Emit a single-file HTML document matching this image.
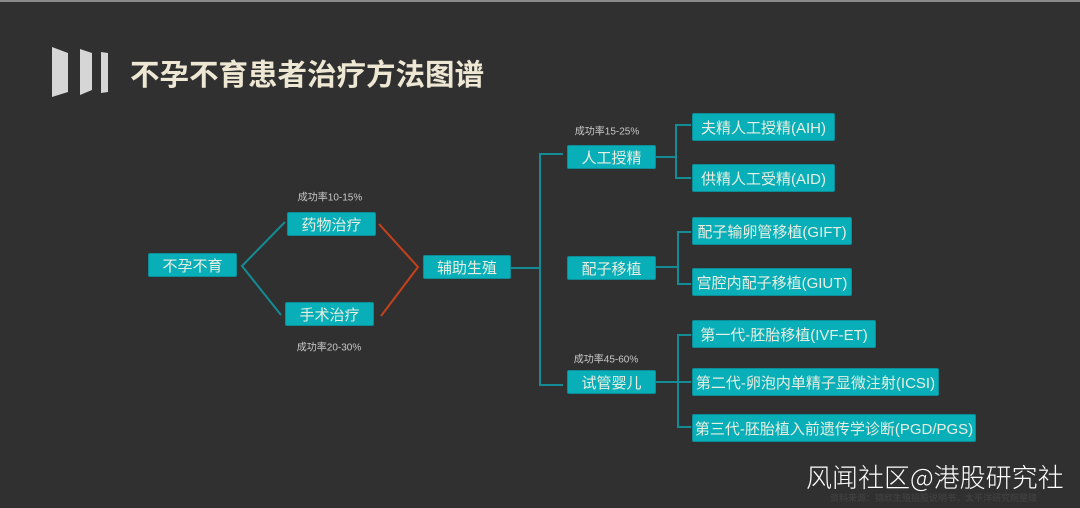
<!DOCTYPE html>
<html><head><meta charset="utf-8">
<style>
html,body{margin:0;padding:0;}
body{width:1080px;height:508px;background:#303030;position:relative;overflow:hidden;font-family:"Liberation Sans","Noto Sans CJK SC",sans-serif;}
.top{position:absolute;left:0;top:0;width:1080px;height:2px;background:#8a8a8a;}
.title{position:absolute;left:130px;top:57px;height:32px;line-height:32px;font-size:29.5px;font-weight:bold;color:#ede7d3;white-space:nowrap;font-family:"Noto Sans CJK SC",sans-serif;}
.box{position:absolute;background:#08aeb8;border:1px solid #0b8e98;border-radius:2px;box-sizing:border-box;color:#e8efe2;font-size:15px;display:flex;align-items:center;justify-content:center;white-space:nowrap;font-family:"Liberation Sans","Noto Sans CJK SC",sans-serif;}
.lab{position:absolute;font-size:10px;color:#c8c8c8;white-space:nowrap;transform:translate(-50%,-50%);font-family:"Liberation Sans","Noto Sans CJK SC",sans-serif;}
.wm{position:absolute;left:806px;top:462px;font-size:26px;line-height:30px;color:#ffffff;white-space:nowrap;font-family:"Noto Sans CJK SC",sans-serif;font-weight:300;}
.src{position:absolute;left:830px;top:491px;font-size:9px;color:#3e3e3e;white-space:nowrap;font-weight:bold;font-family:"Noto Sans CJK SC",sans-serif;}
svg{position:absolute;left:0;top:0;}
</style></head>
<body>
<div class="top"></div>
<svg width="1080" height="508" viewBox="0 0 1080 508">
  <polygon points="52,47 68,53 68,92 52,97" fill="#d6d6d6"/>
  <polygon points="80,49 92,53 92,90 80,95" fill="#d6d6d6"/>
  <polygon points="101,52 108,53 108,92 101,93" fill="#d6d6d6"/>
  <g fill="none" stroke-width="2">
    <polyline points="285,222 242,266 281,315" stroke="#138c96"/>
    <polyline points="379,224 418,267 381,316" stroke="#c4411b"/>
    <g stroke="#138c96">
      <line x1="511" y1="268" x2="540" y2="268"/>
      <line x1="540" y1="153" x2="540" y2="386"/>
      <line x1="539" y1="154" x2="563" y2="154"/>
      <line x1="539" y1="385" x2="563" y2="385"/>
      <line x1="656" y1="157" x2="676" y2="157"/>
      <line x1="676" y1="124" x2="676" y2="179"/>
      <line x1="675" y1="125" x2="691" y2="125"/>
      <line x1="675" y1="178" x2="691" y2="178"/>
      <line x1="656" y1="267" x2="678" y2="267"/>
      <line x1="678" y1="231" x2="678" y2="285"/>
      <line x1="677" y1="232" x2="691" y2="232"/>
      <line x1="677" y1="284" x2="691" y2="284"/>
      <line x1="656" y1="382" x2="678" y2="382"/>
      <line x1="678" y1="334" x2="678" y2="428"/>
      <line x1="677" y1="335" x2="691" y2="335"/>
      <line x1="677" y1="382" x2="691" y2="382"/>
      <line x1="677" y1="427" x2="691" y2="427"/>
    </g>
  </g>
</svg>
<div class="title">不孕不育患者治疗方法图谱</div>

<div class="box" style="left:148px;top:253px;width:89px;height:24px;">不孕不育</div>
<div class="box" style="left:287px;top:212px;width:89px;height:24px;">药物治疗</div>
<div class="box" style="left:285px;top:302px;width:89px;height:24px;">手术治疗</div>
<div class="box" style="left:423px;top:255px;width:88px;height:24px;">辅助生殖</div>
<div class="box" style="left:567px;top:145px;width:89px;height:24px;">人工授精</div>
<div class="box" style="left:567px;top:256px;width:89px;height:24px;">配子移植</div>
<div class="box" style="left:567px;top:370px;width:89px;height:24px;">试管婴儿</div>

<div class="box" style="left:692px;top:113px;width:143px;height:28px;">夫精人工授精(AIH)</div>
<div class="box" style="left:692px;top:164px;width:143px;height:28px;">供精人工受精(AID)</div>
<div class="box" style="left:692px;top:217px;width:160px;height:28px;">配子输卵管移植(GIFT)</div>
<div class="box" style="left:692px;top:268px;width:160px;height:28px;">宫腔内配子移植(GIUT)</div>
<div class="box" style="left:692px;top:320px;width:184px;height:28px;">第一代-胚胎移植(IVF-ET)</div>
<div class="box" style="left:692px;top:368px;width:247px;height:28px;">第二代-卵泡内单精子显微注射(ICSI)</div>
<div class="box" style="left:692px;top:414px;width:284px;height:28px;">第三代-胚胎植入前遗传学诊断(PGD/PGS)</div>

<div class="lab" style="left:330px;top:196px;">成功率10-15%</div>
<div class="lab" style="left:329px;top:346px;">成功率20-30%</div>
<div class="lab" style="left:607px;top:130px;">成功率15-25%</div>
<div class="lab" style="left:606px;top:358px;">成功率45-60%</div>

<div class="src">资料来源：锦欣生殖招股说明书，太平洋研究院整理</div>
<div class="wm">风闻社区@港股研究社</div>
</body></html>
